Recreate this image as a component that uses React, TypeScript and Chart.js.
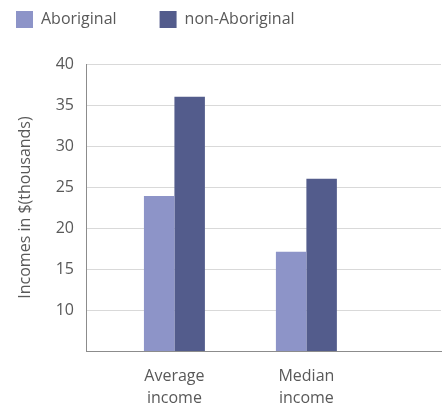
import { useEffect, useRef } from 'react';
import { Chart, registerables } from 'chart.js';

Chart.register(...registerables);

const categories: string[][] = [['Average', 'income'], ['Median', 'income']];
const seriesNames = ['Aboriginal', 'non-Aboriginal'];
const aboriginal = [23.9, 17.1];
const nonAboriginal = [36.0, 26.0];
const yTickLabels = [10, 15, 20, 25, 30, 35, 40];
const yTitle = 'Incomes in $(thousands)';

const COLORS = ['#8d94c8', '#535c8c'];
const TEXT = '#595959';
const FONT = 'Open Sans';

const legendSpacer = {
  id: 'legendSpacer',
  beforeInit(chart: any) {
    const legend = chart.legend;
    if (!legend) return;
    const fit = legend.fit;
    legend.fit = function () {
      fit.call(this);
      this.height += 26;
    };
  },
};

export default function App() {
  const ref = useRef<HTMLCanvasElement | null>(null);
  useEffect(() => {
    if (!ref.current) return;
    const series = [aboriginal, nonAboriginal];
    const chart = new Chart(ref.current, {
      type: 'bar',
      data: {
        datasets: series.map((vals, s) => ({
          label: seriesNames[s],
          data: vals.map((y, i) => ({ x: i + 1, y })),
          backgroundColor: COLORS[s],
          borderWidth: 0,
          categoryPercentage: 0.462,
          barPercentage: 1,
        })),
      },
      plugins: [legendSpacer],
      options: {
        responsive: false,
        animation: false,
        layout: { padding: { left: -27, top: -32, right: 1, bottom: -2 } },
        font: { family: FONT },
        plugins: {
          tooltip: { enabled: false },
          legend: {
            position: 'top',
            align: 'start',
            labels: {
              boxWidth: 17,
              boxHeight: 17,
              padding: 43,
              color: TEXT,
              font: { family: FONT, size: 16 },
            },
          },
        },
        scales: {
          x: {
            type: 'linear',
            min: 0.33,
            max: 3.02,
            offset: false,
            grid: { display: false, offset: false },
            border: { display: true, color: '#8c8c8c', width: 1 },
            afterBuildTicks: (scale: any) => {
              scale.ticks = categories.map((_, i) => ({ value: i + 1 }));
            },
            ticks: {
              autoSkip: false,
              maxRotation: 0,
              padding: 6,
              color: TEXT,
              font: { family: FONT, size: 16, lineHeight: 1.375 },
              callback: (_v: any, i: number) => categories[i],
            },
          },
          y: {
            min: 5,
            max: 40,
            afterFit: (scale: any) => {
              scale.width = 113;
            },
            grid: {
              color: (ctx: any) => (ctx.tick && ctx.tick.value === 5 ? 'rgba(0,0,0,0)' : '#d9d9d9'),
              drawTicks: false,
            },
            border: { display: true, color: '#8c8c8c', width: 1 },
            title: {
              display: true,
              text: yTitle,
              color: TEXT,
              font: { family: FONT, size: 16 },
              padding: { top: 43, bottom: 0 },
            },
            ticks: {
              stepSize: 5,
              padding: 12,
              color: TEXT,
              font: { family: FONT, size: 16 },
              callback: (v: any) => (yTickLabels.includes(Number(v)) ? String(v) : ''),
            },
          },
        },
      },
    } as any);
    return () => chart.destroy();
  }, []);
  return (
    <div style={{ position: 'fixed', left: 0, top: 0, width: 442, height: 413, background: '#fff' }}>
      <canvas ref={ref} width={442} height={413} style={{ display: 'block' }} />
    </div>
  );
}
